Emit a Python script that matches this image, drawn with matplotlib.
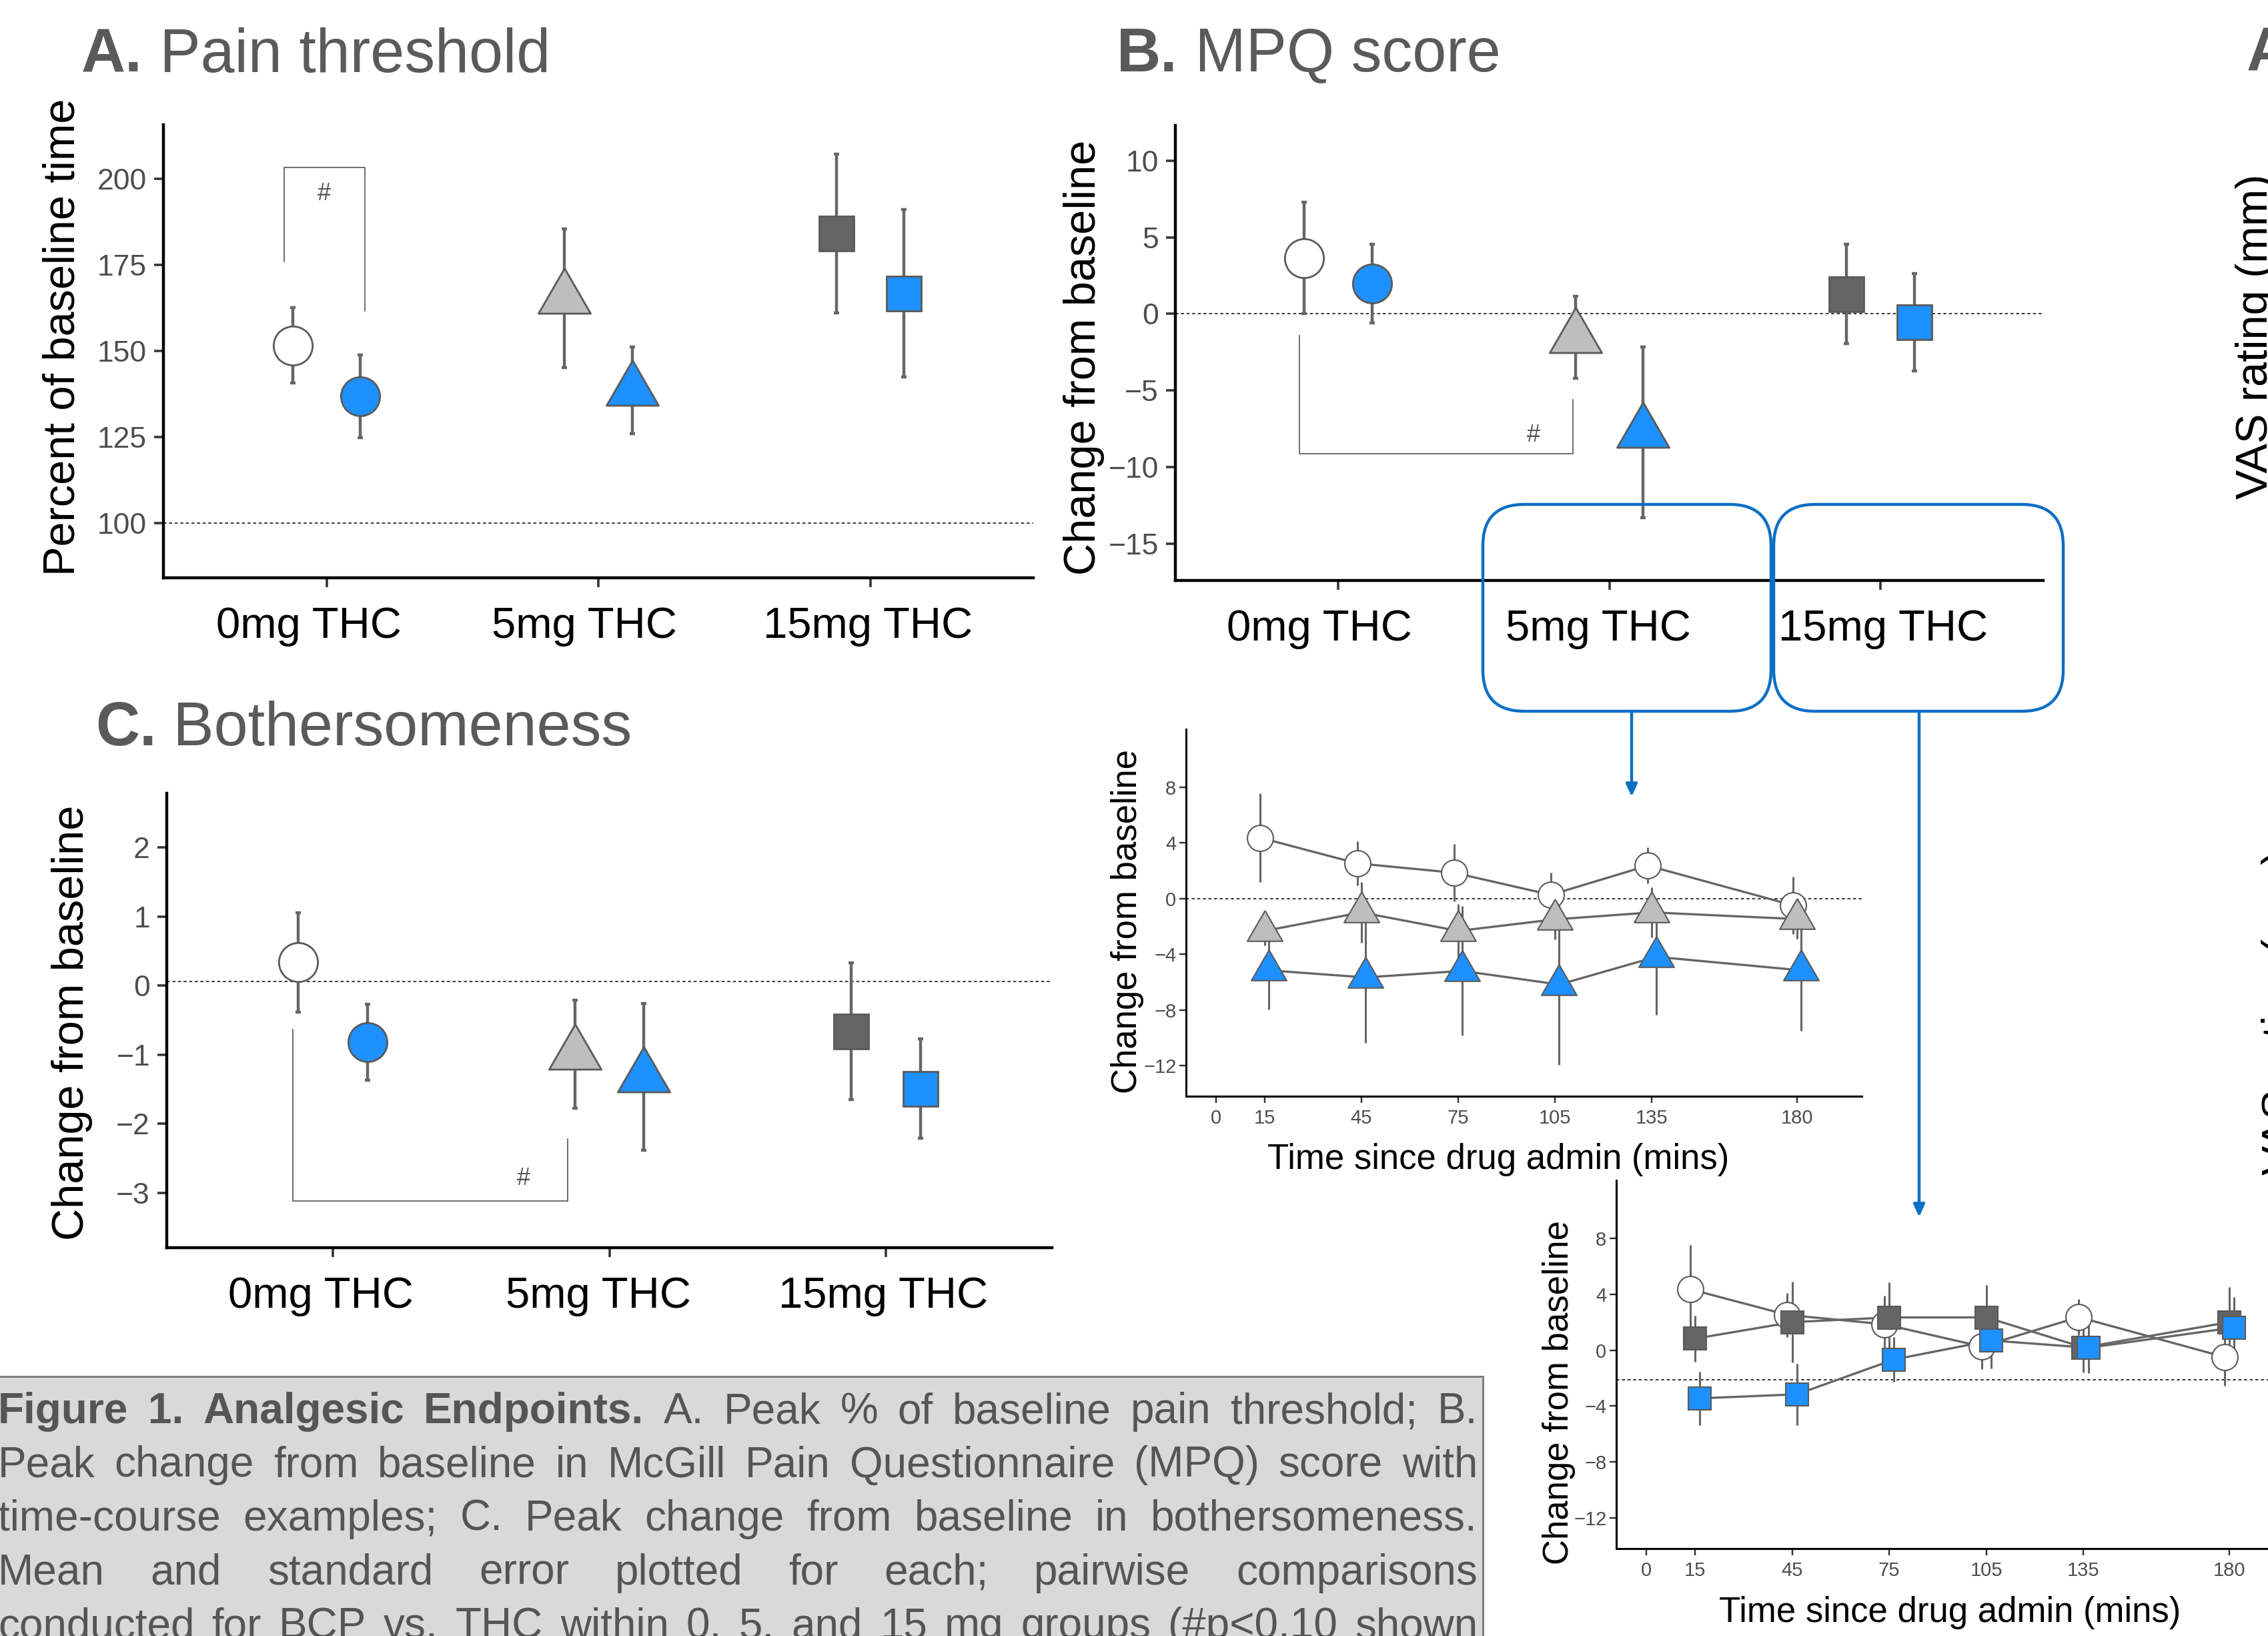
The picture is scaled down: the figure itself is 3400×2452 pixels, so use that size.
import matplotlib
matplotlib.use('Agg')
import matplotlib.pyplot as plt
import matplotlib.transforms as mtransforms
from matplotlib.patches import FancyBboxPatch, Rectangle, FancyArrowPatch
import numpy as np

# ---------------- data ----------------
doses = ['0mg THC', '5mg THC', '15mg THC']

# A. Pain threshold (percent of baseline time)
pain_ref_mean = [151.6, 165.3, 184.1]
pain_ref_se = [11.0, 20.1, 23.1]
pain_bcp_mean = [136.8, 138.5, 166.7]
pain_bcp_se = [12.0, 12.6, 24.3]

# B. MPQ score (change from baseline)
mpq_ref_mean = [3.64, -1.53, 1.30]
mpq_ref_se = [3.64, 2.66, 3.26]
mpq_bcp_mean = [1.97, -7.72, -0.54]
mpq_bcp_se = [2.58, 5.58, 3.17]

# C. Bothersomeness (change from baseline)
both_ref_mean = [0.335, -0.99, -0.66]
both_ref_se = [0.715, 0.78, 0.99]
both_bcp_mean = [-0.82, -1.32, -1.49]
both_bcp_se = [0.55, 1.06, 0.72]

# MPQ time courses
times = [15, 45, 75, 105, 135, 180]
tc_0mg_mean = [4.36, 2.52, 1.85, 0.26, 2.36, -0.49]
tc_0mg_se = [3.18, 1.58, 2.06, 1.60, 1.30, 2.05]
tc_5mg_ref_mean = [-2.33, -1.00, -2.33, -1.50, -1.00, -1.48]
tc_5mg_ref_se = [1.05, 2.20, 1.95, 1.45, 1.78, 1.40]
tc_5mg_bcp_mean = [-5.16, -5.67, -5.20, -6.18, -4.19, -5.16]
tc_5mg_bcp_se = [2.80, 4.70, 4.64, 5.76, 4.17, 4.36]
tc_15mg_ref_mean = [0.82, 2.00, 2.34, 2.34, 0.19, 2.00]
tc_15mg_ref_se = [1.64, 2.90, 2.50, 2.30, 1.80, 2.50]
tc_15mg_bcp_mean = [-3.45, -3.16, -0.67, 0.69, 0.17, 1.62]
tc_15mg_bcp_se = [1.90, 2.20, 1.60, 2.00, 1.80, 2.20]

caption_lines = [
    "Figure 1. Analgesic Endpoints. A. Peak % of baseline pain threshold; B.",
    "Peak change from baseline in McGill Pain Questionnaire (MPQ) score with",
    "time-course examples; C. Peak change from baseline in bothersomeness.",
    "Mean and standard error plotted for each; pairwise comparisons",
    "conducted for BCP vs. THC within 0, 5, and 15 mg groups (#p<0.10 shown",
]
caption_bold_words = 4

# ---------------- style ----------------
W, H, DPI = 3400, 2452, 100
plt.rcParams['font.family'] = ['Liberation Sans', 'DejaVu Sans']
plt.rcParams['axes.unicode_minus'] = True

BLUE = '#1E90FF'
LGRAY = '#BEBEBE'
DGRAY = '#656565'
EDGE = '#5A5A5A'
ECOL = '#666666'
TITLE_COL = '#5A5A5A'
TICK_COL = '#4D4D4D'
CALLOUT = '#0B6FC4'
TRI = [(0, 1), (-0.866, -0.5), (0.866, -0.5), (0, 1)]

fig = plt.figure(figsize=(W / DPI, H / DPI), dpi=DPI)
PX = mtransforms.Affine2D().scale(1 / DPI, -1 / DPI).translate(0, H / DPI) + fig.dpi_scale_trans
renderer = fig.canvas.get_renderer()


def add_ax(x0, y0, x1, y1):
    return fig.add_axes([x0 / W, 1 - y1 / H, (x1 - x0) / W, (y1 - y0) / H])


def style_axes(ax, spine_w, tick_len, ylab_size, ylab_pad, xlab_size, xlab_pad, xlab_col):
    for s in ['top', 'right']:
        ax.spines[s].set_visible(False)
    for s in ['left', 'bottom']:
        ax.spines[s].set_linewidth(spine_w)
        ax.spines[s].set_color('black')
    ax.tick_params(axis='y', length=tick_len, width=spine_w * 0.8, color='#333333',
                   labelsize=ylab_size, labelcolor=TICK_COL, pad=ylab_pad)
    ax.tick_params(axis='x', length=tick_len, width=spine_w * 0.8, color='#333333',
                   labelsize=xlab_size, labelcolor=xlab_col, pad=xlab_pad)
    ax.patch.set_alpha(0)


def dose_panel(ax, ref_mean, ref_se, bcp_mean, bcp_se, ylim, yticks, ref_line, label_dx):
    x = np.arange(1, 4)
    d = 0.125
    markers = ['o', TRI, 's']
    sizes = [42, 65, 38]
    fills = ['white', LGRAY, DGRAY]
    ax.axhline(ref_line, color='black', lw=1.1, ls=(0, (3, 2.5)), zorder=1)
    for i in range(3):
        ax.errorbar(x[i] - d, ref_mean[i], yerr=ref_se[i], fmt='none', ecolor=ECOL,
                    elinewidth=3.2, capsize=3, capthick=3.2, zorder=2)
        ax.errorbar(x[i] + d, bcp_mean[i], yerr=bcp_se[i], fmt='none', ecolor=ECOL,
                    elinewidth=3.2, capsize=3, capthick=3.2, zorder=2)
        ax.plot(x[i] - d, ref_mean[i], ls='none', marker=markers[i], ms=sizes[i],
                mfc=fills[i], mec=EDGE, mew=2, zorder=3)
        ax.plot(x[i] + d, bcp_mean[i], ls='none', marker=markers[i], ms=sizes[i],
                mfc=BLUE, mec=EDGE, mew=2, zorder=3)
    ax.set_xlim(0.4, 3.6)
    ax.set_ylim(*ylim)
    ax.set_yticks(yticks)
    ax.set_xticks(x)
    ax.set_xticklabels(doses)
    style_axes(ax, 3.2, 10, 32, 8, 47, 21, 'black')
    for lab, dx in zip(ax.get_xticklabels(), label_dx):
        lab.set_transform(lab.get_transform() + mtransforms.ScaledTranslation(dx / DPI, 0, fig.dpi_scale_trans))


def bracket(ax, xl, yl, xr, yr, yb, hx, hy):
    ax.plot([xl, xl, xr, xr], [yl, yb, yb, yr], color='#555555', lw=1.2, zorder=1)
    ax.text(hx, hy, '#', ha='center', va='center', fontsize=26, color='#555555')


def title(x, y, bold, rest, size=66):
    t = fig.text(x, y, bold, transform=PX, fontsize=size, fontweight='bold', color=TITLE_COL,
                 ha='left', va='baseline')
    w = t.get_window_extent(renderer).width
    fig.text(x + w, y, rest, transform=PX, fontsize=size, color=TITLE_COL, ha='left', va='baseline')


def ylabel(x, y, s, size):
    fig.text(x, y, s, transform=PX, rotation=90, rotation_mode='anchor', ha='center',
             va='baseline', fontsize=size, color='black')


# ---------------- Panel A ----------------
axA = add_ax(245, 187, 1549, 866)
dose_panel(axA, pain_ref_mean, pain_ref_se, pain_bcp_mean, pain_bcp_se,
           (84.1, 215.7), [100, 125, 150, 175, 200], 100, [-27, -21, -3])
bracket(axA, 0.845, 176, 1.14, 161.7, 203.3, 0.99, 195.7)
title(122, 108, 'A.', ' Pain threshold')
ylabel(112, 505, 'Percent of baseline time', 48)

# ---------------- Panel B ----------------
axB = add_ax(1762, 188, 3063, 870)
dose_panel(axB, mpq_ref_mean, mpq_ref_se, mpq_bcp_mean, mpq_bcp_se,
           (-17.4, 12.3), [-15, -10, -5, 0, 5, 10], 0, [-28, -17, 4])
bracket(axB, 0.858, -1.41, 1.866, -5.6, -9.14, 1.72, -7.95)
title(1674, 107, 'B.', ' MPQ score')
ylabel(1642, 536, 'Change from baseline', 48)

# ---------------- Panel C ----------------
axC = add_ax(250, 1189, 1577, 1870)
dose_panel(axC, both_ref_mean, both_ref_se, both_bcp_mean, both_bcp_se,
           (-3.79, 2.78), [-3, -2, -1, 0, 1, 2], 0.06, [-18, -17, -4])
bracket(axC, 0.856, -0.64, 1.85, -2.22, -3.11, 1.69, -2.79)
title(143, 1117, 'C.', ' Bothersomeness')
ylabel(125, 1533, 'Change from baseline', 48)


# ---------------- time-course insets ----------------
def series(ax, t, mean, se, dx, marker, ms, fill, z):
    tt = np.asarray(t, float) + dx
    ax.errorbar(tt, mean, yerr=se, fmt='none', ecolor=ECOL, elinewidth=2.2, capsize=0, zorder=2)
    ax.plot(tt, mean, color=ECOL, lw=2.4, zorder=3)
    ax.plot(tt, mean, ls='none', marker=marker, ms=ms, mfc=fill, mec=EDGE, mew=1.5, zorder=4 + z)


def inset_axes_style(ax, dash_y):
    ax.axhline(dash_y, color='black', lw=1.1, ls=(0, (3, 2.5)), zorder=1)
    ax.set_xlim(-9.3, 200)
    ax.set_ylim(-14.2, 12.15)
    ax.set_xticks([0] + times)
    ax.set_yticks([-12, -8, -4, 0, 4, 8])
    style_axes(ax, 2.2, 7.5, 21, 3, 21, 6, TICK_COL)


ax1 = add_ax(1778, 1093, 2791, 1643)
series(ax1, times, tc_0mg_mean, tc_0mg_se, -1.3, 'o', 28, 'white', 0)
series(ax1, times, tc_5mg_ref_mean, tc_5mg_ref_se, 0, TRI, 44, LGRAY, 0.1)
series(ax1, times, tc_5mg_bcp_mean, tc_5mg_bcp_se, 1.3, TRI, 44, BLUE, 0.2)
inset_axes_style(ax1, 0)
ylabel(1704, 1381, 'Change from baseline', 38)
fig.text(2246, 1752, 'Time since drug admin (mins)', transform=PX, ha='center', va='baseline', fontsize=38)

ax2 = add_ax(2423, 1769, 3439, 2321)
series(ax2, times, tc_0mg_mean, tc_0mg_se, -1.5, 'o', 28, 'white', 0)
series(ax2, times, tc_15mg_ref_mean, tc_15mg_ref_se, 0, 's', 25, DGRAY, 0.1)
series(ax2, times, tc_15mg_bcp_mean, tc_15mg_bcp_se, 1.5, 's', 25, BLUE, 0.2)
inset_axes_style(ax2, -2.1)
ylabel(2351, 2087, 'Change from baseline', 38)
fig.text(2923, 2431, 'Time since drug admin (mins)', transform=PX, ha='center', va='baseline', fontsize=38)

# ---------------- callouts ----------------
for x0, x1 in [(2223, 2655), (2659, 3093)]:
    fig.patches.append(FancyBboxPatch((x0, 756), x1 - x0, 310, boxstyle='round,pad=0,rounding_size=62',
                                      transform=PX, fill=False, ec=CALLOUT, lw=3.2, zorder=10))
for xa, yb in [(2446, 1194), (2877, 1824)]:
    fig.patches.append(FancyArrowPatch((xa, 1066), (xa, yb), transform=PX, arrowstyle='-|>,head_length=11,head_width=5',
                                       mutation_scale=1, color=CALLOUT, lw=3.2, shrinkA=0, shrinkB=0, zorder=10))

# ---------------- right-edge fragments ----------------
title(3368, 106, 'A.', '')
ylabel(3399, 504, 'VAS rating (mm)', 48)
ylabel(3438, 1517, 'VAS rating (mm)', 48)

# ---------------- caption ----------------
fig.patches.append(Rectangle((-20, 2063), 2243, 420, transform=PX, fc='#D9D9D9', ec='#808080', lw=2.2, zorder=0))
cap_y0, cap_dy = 2133, 80.5
for li, line in enumerate(caption_lines):
    words = line.split(' ')
    ts = []
    for wi, w in enumerate(words):
        wt = 'bold' if (li == 0 and wi < caption_bold_words) else 'normal'
        ts.append(fig.text(0, cap_y0 + li * cap_dy, w, transform=PX, fontsize=46, fontweight=wt,
                           color='#555555', ha='left', va='baseline', zorder=11))
    widths = [t.get_window_extent(renderer).width for t in ts]
    x0, x1 = -3, 2215
    gap = (x1 - x0 - sum(widths)) / (len(ts) - 1)
    x = x0
    for t, wd in zip(ts, widths):
        t.set_x(x)
        x += wd + gap

fig.savefig('out.png', dpi=DPI)
